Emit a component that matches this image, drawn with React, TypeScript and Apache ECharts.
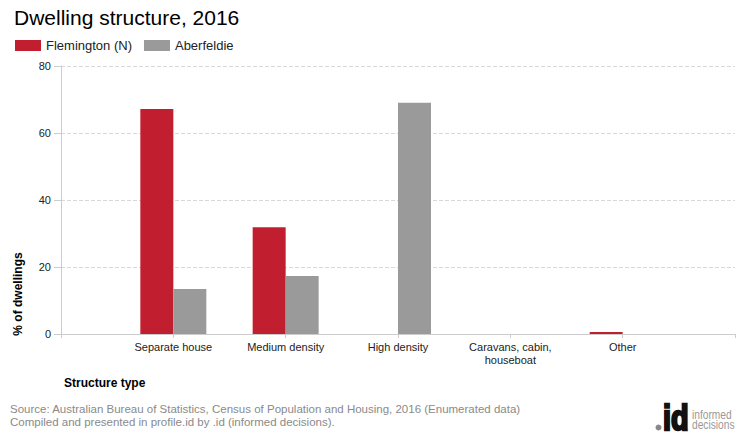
import React, { useEffect, useRef } from "react";
import * as echarts from "echarts";

const categories = ["Separate house", "Medium density", "High density", "Caravans, cabin,\nhouseboat", "Other"];
const flemington = [67.2, 31.9, 0, 0, 0.6];
const aberfeldie = [13.4, 17.3, 69.0, 0, 0];
const yTicks = [0, 20, 40, 60, 80];

const FONT = "'Liberation Sans', Arial, sans-serif";
const RED = "#C11F2F";
const GREY = "#9A9A9A";

export default function App() {
  const ref = useRef<HTMLDivElement>(null);
  useEffect(() => {
    if (!ref.current) return;
    const chart = echarts.init(ref.current, undefined, { renderer: "svg" });
    chart.setOption({
      animation: false,
      textStyle: { fontFamily: FONT },
      title: {
        text: "Dwelling structure, 2016",
        left: 9,
        top: 2,
        textStyle: { fontFamily: FONT, fontSize: 21, fontWeight: "normal", color: "#000" },
      },
      legend: {
        left: 10,
        top: 34,
        icon: "rect",
        itemWidth: 26,
        itemHeight: 11,
        itemGap: 12,
        textStyle: { fontFamily: FONT, fontSize: 13, color: "#222" },
        data: ["Flemington (N)", "Aberfeldie"],
      },
      grid: { left: 61, right: 5, top: 66, bottom: 106 },
      xAxis: {
        type: "value",
        min: -1,
        max: 5,
        interval: 1,
        axisLine: { show: true, onZero: false, lineStyle: { color: "#ccc" } },
        axisTick: { show: true, length: 4, lineStyle: { color: "#ccc" } },
        splitLine: { show: false },
        axisLabel: {
          margin: 6,
          fontSize: 11,
          color: "#222",
          fontFamily: FONT,
          lineHeight: 13,
          showMinLabel: true,
          showMaxLabel: true,
          formatter: (v: number) => {
            const i = Math.round(v);
            return i >= 0 && i < categories.length ? categories[i] : "";
          },
        },
      },
      yAxis: {
        type: "value",
        min: 0,
        max: 80,
        interval: 20,
        axisLine: { show: true, onZero: false, lineStyle: { color: "#ccc" } },
        axisTick: { show: true, length: 7, lineStyle: { color: "#ccc" } },
        splitLine: { show: true, lineStyle: { color: "#d8d8d8", type: "dashed" } },
        axisLabel: {
          margin: 10,
          fontSize: 11,
          color: "#222",
          fontFamily: FONT,
          formatter: (v: number) => (yTicks.includes(v) ? String(v) : ""),
        },
      },
      series: [
        {
          name: "Flemington (N)",
          type: "bar",
          barWidth: 33,
          barGap: "0%",
          itemStyle: { color: RED },
          data: flemington.map((v, i) => [i, v]),
        },
        {
          name: "Aberfeldie",
          type: "bar",
          barWidth: 33,
          barGap: "0%",
          itemStyle: { color: GREY },
          data: aberfeldie.map((v, i) => [i, v]),
        },
      ],
      graphic: [
        {
          type: "text",
          x: 18,
          y: 294,
          rotation: Math.PI / 2,
          style: {
            text: "% of dwellings",
            fontFamily: FONT,
            fontSize: 12,
            fontWeight: "bold",
            fill: "#000",
            align: "center",
            verticalAlign: "middle",
          },
        },
        {
          type: "text",
          x: 64,
          y: 377,
          style: {
            text: "Structure type",
            fontFamily: FONT,
            fontSize: 12,
            fontWeight: "bold",
            fill: "#000",
          },
        },
        {
          type: "text",
          x: 10,
          y: 402,
          style: {
            text: "Source: Australian Bureau of Statistics, Census of Population and Housing, 2016 (Enumerated data)\nCompiled and presented in profile.id by .id (informed decisions).",
            fontFamily: FONT,
            fontSize: 11.5,
            lineHeight: 13,
            fill: "#8a8a8a",
          },
        },
        {
          type: "circle",
          shape: { cx: 658.5, cy: 427.5, r: 3 },
          style: { fill: "#888" },
        },
        {
          type: "text",
          x: 663,
          y: 399,
          scaleX: 0.8,
          style: {
            text: "id",
            fontFamily: FONT,
            fontSize: 36,
            fontWeight: 900,
            fill: "#111",
            stroke: "#111",
            lineWidth: 2.5,
          },
        },
        {
          type: "text",
          x: 692,
          y: 410,
          scaleX: 0.85,
          style: {
            text: "informed\ndecisions",
            fontFamily: FONT,
            fontSize: 12,
            lineHeight: 10,
            fill: "#999",
          },
        },
      ],
    });
    return () => chart.dispose();
  }, []);
  return <div ref={ref} style={{ width: 740, height: 440, position: "absolute", left: 0, top: 0 }} />;
}
